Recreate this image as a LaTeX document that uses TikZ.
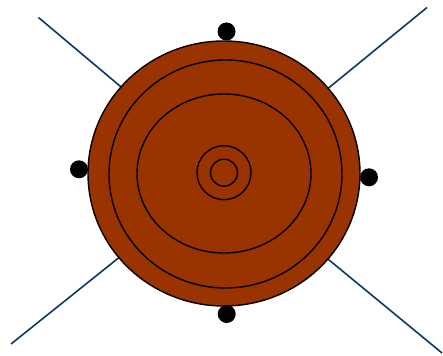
\documentclass[tikz,border=0pt]{standalone}
\definecolor{rust}{RGB}{153,51,0}
\definecolor{navy}{RGB}{10,55,105}
\begin{document}
\begin{tikzpicture}[x=1pt,y=-1pt,
  ring/.style={draw=black,line width=1.4pt},
  wire/.style={draw=navy,line width=1.6pt},
  dot/.style={fill=black}]
\useasboundingbox (0,0) rectangle (443,355);
\coordinate (c) at (224,173.5);
\coordinate (tl) at (38.5,17.5);
\coordinate (tr) at (427,7.5);
\coordinate (bl) at (11,344);
\coordinate (br) at (442,353);
\draw[wire] (c) -- (tl);
\draw[wire] (c) -- (tr);
\draw[wire] (c) -- (bl);
\draw[wire] (c) -- (br);
\filldraw[ring,fill=rust] (c) ellipse [x radius=136, y radius=132.5];
\draw[ring] (225.5,174) ellipse [x radius=116.5, y radius=114];
\draw[ring] (224,173.5) ellipse [x radius=87, y radius=79.5];
\draw[ring] (224,172.7) circle (27);
\draw[ring] (224,172.7) circle (13.5);
\fill[dot] (226.5,31.5) circle (9);
\fill[dot] (79,169.3) circle (9);
\fill[dot] (369,177.3) circle (9);
\fill[dot] (226.7,314) circle (9);
\end{tikzpicture}
\end{document}
